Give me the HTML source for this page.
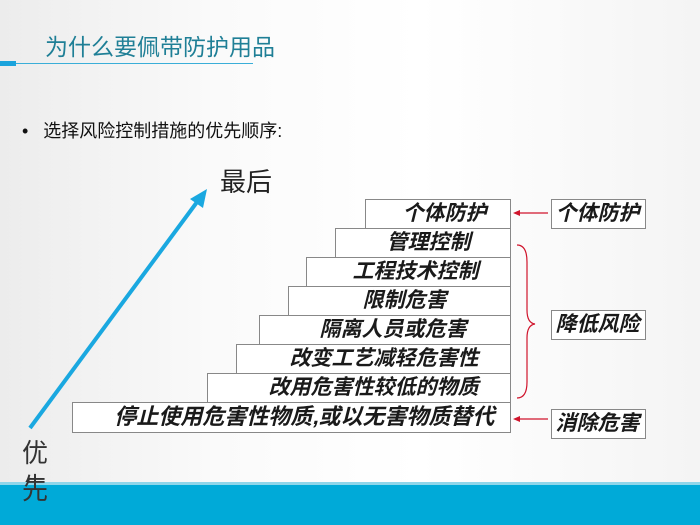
<!DOCTYPE html>
<html><head><meta charset="utf-8"><style>
body{margin:0;width:700px;height:525px;overflow:hidden;position:relative;font-family:"Liberation Sans","Noto Sans CJK SC",sans-serif;background:linear-gradient(90deg,#ececec 0%,#fafafa 30%,#fff 60%,#f4f4f4 100%);}
.a{position:absolute;}
.b{position:absolute;border:1px solid #888;background:#fff;box-sizing:border-box;font-weight:bold;font-size:21px;color:#1a1a1a;text-align:right;line-height:28px;white-space:nowrap;}
.b span{display:inline-block;transform:skewX(-14deg);}
</style></head><body>
<div class="a" style="left:45px;top:28px;font-size:23px;color:#1f7f96;">为什么要佩带防护用品</div>
<div class="a" style="left:0;top:63px;width:253px;height:1px;background:#3aaed8;"></div>
<div class="a" style="left:0;top:61px;width:16px;height:5px;background:#1aa3dc;"></div>
<div class="a" style="left:22px;top:117px;font-size:18px;color:#111;">•&nbsp;&nbsp;&nbsp;选择风险控制措施的优先顺序:</div>
<div class="a" style="left:220px;top:162px;font-size:26px;color:#222;">最后</div>
<div class="a" style="left:22px;top:436px;font-size:26px;color:#333;line-height:34px;">优<br>先</div>
<svg class="a" style="left:0;top:0" width="700" height="525">
<line x1="30" y1="428" x2="200" y2="198" stroke="#1aa8e0" stroke-width="4"/>
<polygon points="207,189 190,199 203,208" fill="#1aa8e0"/>
<line x1="548" y1="213" x2="518" y2="213" stroke="#d0142c" stroke-width="1.2"/>
<polygon points="513,213 520,210 520,216" fill="#d0142c"/>
<line x1="548" y1="419" x2="518" y2="419" stroke="#d0142c" stroke-width="1.2"/>
<polygon points="513,419 520,416 520,422" fill="#d0142c"/>
<path d="M517,245 Q527,245 527,262 L527,310 Q527,323 535,324 Q527,325 527,338 L527,382 Q527,398 517,398" fill="none" stroke="#d0142c" stroke-width="1.2"/>
</svg>
<div class="b" style="left:365px;top:199px;width:146px;height:30px;padding-right:22px"><span>个体防护</span></div>
<div class="b" style="left:335px;top:228px;width:176px;height:30px;padding-right:38px"><span>管理控制</span></div>
<div class="b" style="left:306px;top:257px;width:205px;height:30px;padding-right:30px"><span>工程技术控制</span></div>
<div class="b" style="left:288px;top:286px;width:223px;height:30px;padding-right:62px"><span>限制危害</span></div>
<div class="b" style="left:259px;top:315px;width:252px;height:30px;padding-right:42px"><span>隔离人员或危害</span></div>
<div class="b" style="left:236px;top:344px;width:275px;height:30px;padding-right:30px"><span>改变工艺减轻危害性</span></div>
<div class="b" style="left:207px;top:373px;width:304px;height:30px;padding-right:30px"><span>改用危害性较低的物质</span></div>
<div class="b" style="left:72px;top:402px;width:439px;height:31px;padding-right:14px;font-size:22px"><span>停止使用危害性物质,或以无害物质替代</span></div>
<div class="b" style="left:551px;top:199px;width:95px;height:30px;text-align:center;font-size:21px"><span>个体防护</span></div>
<div class="b" style="left:551px;top:310px;width:95px;height:30px;text-align:center;font-size:21px"><span>降低风险</span></div>
<div class="b" style="left:551px;top:409px;width:95px;height:30px;text-align:center;font-size:21px"><span>消除危害</span></div>
<div class="a" style="left:0;top:482px;width:700px;height:3px;background:#8fd6ea;"></div>
<div class="a" style="left:0;top:485px;width:700px;height:40px;background:#00aad8;"></div>
<div class="a" style="left:22px;top:470px;font-size:26px;color:#333;">先</div>
</body></html>
